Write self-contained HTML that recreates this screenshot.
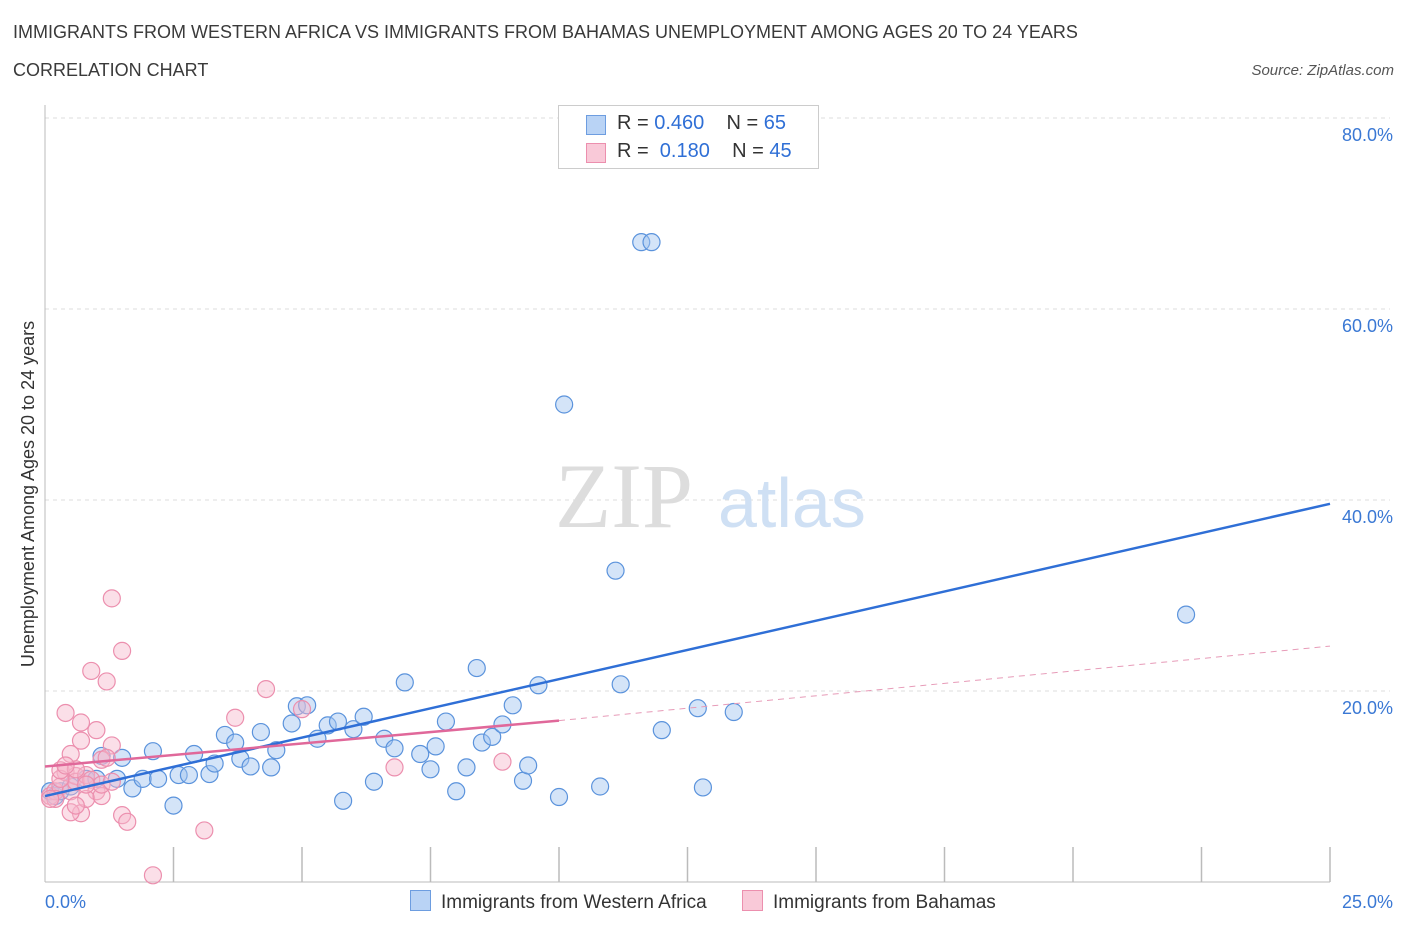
<!DOCTYPE html>
<html><head><meta charset="utf-8">
<style>
body{margin:0;background:#fff;font-family:"Liberation Sans",sans-serif;}
.t{position:absolute;color:#333;}
</style></head>
<body>
<div style="position:relative;width:1406px;height:930px;overflow:hidden">
<div class="t" style="left:13px;top:22px;font-size:18px;color:#3a3a3a">IMMIGRANTS FROM WESTERN AFRICA VS IMMIGRANTS FROM BAHAMAS UNEMPLOYMENT AMONG AGES 20 TO 24 YEARS</div>
<div class="t" style="left:13px;top:60px;font-size:18px;color:#3a3a3a">CORRELATION CHART</div>
<div class="t" style="right:12px;top:62px;font-size:15px;font-style:italic;color:#555">Source: ZipAtlas.com</div>
<svg id="svg" width="1406" height="930" style="position:absolute;left:0;top:0"></svg>
</div>
<script>
const blueX=[0.1,0.2,0.3,0.5,0.8,1.0,1.1,1.4,1.5,1.7,1.9,2.1,2.2,2.5,2.6,2.8,2.9,3.2,3.3,3.5,3.7,3.8,4.0,4.2,4.4,4.5,4.8,4.9,5.1,5.3,5.5,5.7,5.8,6.0,6.2,6.4,6.6,6.8,7.0,7.3,7.5,7.6,7.8,8.0,8.2,8.4,8.5,8.7,8.9,9.1,9.3,9.4,9.6,10.0,10.1,10.8,11.1,11.2,11.6,11.8,12.0,12.7,12.8,13.4,22.2];
const blueY=[9.5,9.0,9.5,10.0,10.8,10.8,13.2,10.8,13.0,9.8,10.8,13.7,10.8,8.0,11.2,11.2,13.4,11.3,12.4,15.4,14.6,12.9,12.1,15.7,12.0,13.8,16.6,18.4,18.5,15.0,16.4,16.8,8.5,16.0,17.3,10.5,15.0,14.0,20.9,13.4,11.8,14.2,16.8,9.5,12.0,22.4,14.6,15.2,16.5,18.5,10.6,12.2,20.6,8.9,50.0,10.0,32.6,20.7,67.0,67.0,15.9,18.2,9.9,17.8,28.0];
const pinkX=[0.1,0.2,0.3,0.4,0.5,0.6,0.6,0.8,0.9,1.0,0.4,0.9,1.2,1.3,1.5,0.7,0.7,0.5,0.7,0.5,0.8,1.1,1.0,1.1,1.3,1.2,1.5,1.6,2.1,3.1,3.7,4.3,5.0,6.8,8.9,0.3,0.2,1.1,0.6,1.3,0.3,0.1,0.6,0.8,0.4];
const pinkY=[9.0,9.5,10.0,11.5,9.5,11.1,10.5,11.2,10.7,9.5,17.7,22.1,21.0,29.7,24.2,16.7,14.8,13.4,7.2,7.3,8.7,9.0,15.9,12.8,14.3,13.0,7.0,6.3,0.7,5.4,17.2,20.2,18.1,12.0,12.6,10.8,8.7,10.2,8.0,10.5,11.7,8.7,11.8,10.2,12.2];
const yTicks=[20,40,60,80];
const xTickLabels=["0.0%","25.0%"];
const blueLine=[9.0,39.6], pinkLine=[12.1,16.9,24.7], pinkSolidEnd=10.0;
const X0=45,X1=1330,Y0=882,PPY=9.55;
const sx=v=>X0+v/25*(X1-X0), sy=v=>Y0-v*PPY;
const svg=document.getElementById('svg');const NS='http://www.w3.org/2000/svg';
function mk(t,a,p){const e=document.createElementNS(NS,t);for(const k in a)e.setAttribute(k,a[k]);(p||svg).appendChild(e);return e;}
// grid
yTicks.forEach(v=>{const l=mk('line',{x1:X0,x2:1390,y1:sy(v),y2:sy(v),stroke:'#ddd','stroke-dasharray':'4,4'});

const t=mk('text',{x:1393,y:sy(v)+23,'text-anchor':'end','font-size':18,fill:'#3a78d4','font-family':'Liberation Sans, sans-serif'});t.textContent=v.toFixed(1)+'%';
});
const ax=mk('line',{x1:X0,x2:X0,y1:105,y2:Y0,stroke:'#bbb'});
const bx=mk('line',{x1:X0,x2:X1,y1:Y0,y2:Y0,stroke:'#bbb'});
for(let i=1;i<=10;i++){const x=X0+i*(X1-X0)/10;const tk=mk('line',{x1:x,x2:x,y1:847,y2:Y0,stroke:'#bbb','stroke-width':1.5});}
[[xTickLabels[0],45,'start'],[xTickLabels[1],1393,'end']].forEach(a=>{const t=mk('text',{x:a[1],y:908,'text-anchor':a[2],'font-size':18,fill:'#3a78d4','font-family':'Liberation Sans, sans-serif'});t.textContent=a[0];});
// watermark
const w=mk('text',{x:555,y:527,'font-size':92,fill:'#ddd','font-family':'Liberation Serif, serif'});w.textContent='ZIP';
const w2=mk('text',{x:718,y:527,'font-size':70,fill:'#cfe0f4','font-family':'Liberation Sans, sans-serif'});w2.textContent='atlas';
// points
blueX.forEach((v,i)=>{const c=mk('circle',{cx:sx(v),cy:sy(blueY[i]),r:8.5,fill:'rgba(160,196,240,0.45)',stroke:'#5b93dc','stroke-width':1.2});});
pinkX.forEach((v,i)=>{const c=mk('circle',{cx:sx(v),cy:sy(pinkY[i]),r:8.5,fill:'rgba(247,185,205,0.45)',stroke:'#ec8fae','stroke-width':1.2});});
// trend lines
const bl=mk('line',{x1:sx(0),y1:sy(blueLine[0]),x2:sx(25),y2:sy(blueLine[1]),stroke:'#2f6fd6','stroke-width':2.5});
const pl=mk('line',{x1:sx(0),y1:sy(pinkLine[0]),x2:sx(pinkSolidEnd),y2:sy(pinkLine[1]),stroke:'#e0689a','stroke-width':2.5});
const pd=mk('line',{x1:sx(pinkSolidEnd),y1:sy(pinkLine[1]),x2:sx(25),y2:sy(pinkLine[2]),stroke:'#e79bb8','stroke-width':1,'stroke-dasharray':'6,5'});
// y title
const yt=mk('text',{x:34,y:494,'text-anchor':'middle','font-size':18,fill:'#333',transform:'rotate(-90 34 494)','font-family':'Liberation Sans, sans-serif'});yt.textContent='Unemployment Among Ages 20 to 24 years';
</script>
<div style="position:absolute;left:558px;top:105px;width:259px;height:62px;border:1px solid #ccc;background:#fff;font-size:20px">
<div style="position:absolute;left:27px;top:9px;width:18px;height:18px;background:#b9d3f5;border:1px solid #6d9de0"></div>
<div style="position:absolute;left:58px;top:6px;color:#333">R = <span style="color:#2f6fd6">0.460</span>&nbsp;&nbsp;&nbsp; N = <span style="color:#2f6fd6">65</span></div>
<div style="position:absolute;left:27px;top:37px;width:18px;height:18px;background:#f9c9d8;border:1px solid #ec8fae"></div>
<div style="position:absolute;left:58px;top:34px;color:#333">R = &nbsp;<span style="color:#2f6fd6">0.180</span>&nbsp;&nbsp;&nbsp; N = <span style="color:#2f6fd6">45</span></div>
</div>
<div style="position:absolute;left:410px;top:890px;font-size:19px;color:#333">
<span style="display:inline-block;width:19px;height:19px;background:#b9d3f5;border:1px solid #6d9de0;vertical-align:-3px;margin-right:10px"></span><span>Immigrants from Western Africa</span>
<span style="display:inline-block;width:19px;height:19px;background:#f9c9d8;border:1px solid #ec8fae;vertical-align:-3px;margin:0 10px 0 30px"></span><span>Immigrants from Bahamas</span>
</div>
</body></html>
